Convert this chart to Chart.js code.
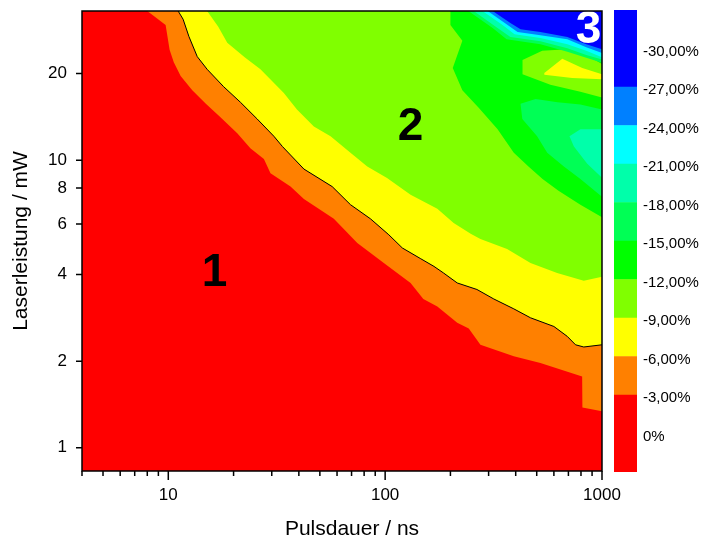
<!DOCTYPE html>
<html><head><meta charset="utf-8">
<script src="https://cdn.jsdelivr.net/npm/chart.js@4.4.1/dist/chart.umd.min.js"></script>
<style>
html,body{margin:0;padding:0;background:#fff;}
#wrap{position:relative;width:711px;height:541px;overflow:hidden;background:#fff;}
canvas{position:absolute;top:0;}
#main{left:0;}
#bar{left:614px;}
</style></head><body>
<div id="wrap"><canvas id="main" width="711" height="541"></canvas><canvas id="bar" width="97" height="541"></canvas></div>
<script>
const FONT = "'Liberation Sans', Arial, sans-serif";

// ---- axes ----
const xRange = [4, 1000];
const yRange = [0.83, 33];
const xTickValues = [4,5,6,7,8,9,10,20,30,40,50,60,70,80,90,100,200,300,400,500,600,700,800,900,1000];
const xLabelValues = [10,100,1000];
const yTickValues = [1,2,4,6,8,10,20];
const xTitle = 'Pulsdauer / ns';
const yTitle = 'Laserleistung / mW';

// ---- colour levels (%) ----
const levelTicks = [0,-3,-6,-9,-12,-15,-18,-21,-24,-27,-30];
const bandEdges  = [3,-3,-6,-9,-12,-15,-18,-21,-24,-27,-33];
const bandColors = ['#FF0000','#FF8000','#FFFF00','#80FF00','#00FF00','#00FF55','#00FFAA','#00FFFF','#0080FF','#0000FF'];

// ---- contour level lines: [pulse duration ns, power mW] ----
const edgeMinus3 = [[8.0,33],[9.72,29.5],[10.14,24.2],[10.6,21.9],[11.4,19.6],[12.9,17.5],[14.9,15.7],[17.4,14.1],[20.8,12.4],[23.9,11.0],[27.6,10.1],[29.6,9.0],[36.6,8.1],[42.2,7.33],[58.0,6.25],[74.4,5.15],[98.6,4.39],[131,3.74],[150,3.29],[174,3.10],[215,2.72],[243,2.60],[275,2.28],[392,2.08],[520,1.97],[810,1.77],[812,1.38],[1000,1.34]];
const edgeMinus6 = [[11.1,33],[11.7,30.9],[12.45,26.9],[13.6,22.9],[15.1,20.7],[18.0,18.0],[21.5,15.9],[25.7,13.9],[30.7,12.1],[33.6,11.15],[42.2,9.31],[57.0,8.09],[69.2,7.0],[85.6,6.25],[104,5.50],[120,4.95],[146,4.54],[168,4.27],[186,4.05],[215,3.74],[265,3.55],[317,3.29],[392,3.04],[468,2.83],[600,2.64],[691,2.44],[755,2.28],[824,2.24],[1000,2.28]];
const edgeMinus9 = [[15.1,33],[17.0,29.1],[18.7,25.6],[22.5,22.8],[26.6,20.7],[34.1,17.1],[39.2,15.0],[46.9,13.1],[56.0,12.1],[69.2,10.6],[82.7,9.5],[102,8.66],[131,7.58],[174,6.77],[207,6.04],[248,5.55],[275,5.32],[365,4.91],[468,4.39],[621,4.05],[824,3.81],[1000,3.93]];
const edgeMinus12 = [[200,33],[200,29.5],[227,26.0],[205,20.9],[227,17.5],[270,15.2],[330,12.8],[392,10.6],[458,9.5],[532,8.6],[630,7.82],[795,7.0],[1000,6.33]];
const edgeMinus15 = [[242,33],[313,28.8],[363,26.3],[520,25.3],[692,23.8],[846,22.7],[1000,21.8]];
const edgeMinus18 = [[256,33],[326,29.0],[378,26.8],[520,25.9],[692,24.5],[846,23.2],[1000,22.4]];
const edgeMinus21 = [[281,33],[348,29.5],[395,27.4],[520,26.6],[692,25.3],[846,24.0],[1000,22.8]];
const edgeMinus24 = [[297,33],[363,29.7],[408,27.9],[520,27.2],[692,26.3],[846,24.7],[1000,23.6]];
const edgeMinus27 = [[313,33],[378,30.0],[421,28.5],[520,27.9],[692,26.8],[846,25.3],[1000,24.3]];
// closed islands
const islandMinus9  = [[430,22.3],[530,24.0],[692,24.3],[846,23.2],[1000,21.6],[1000,16.5],[795,17.3],[578,18.3],[430,19.9]];
const islandMinus6  = [[542,20.1],[656,22.5],[811,20.9],[1000,19.9],[1000,19.1],[729,19.3],[542,19.8]];
const pocketMinus15 = [[421,15.7],[494,16.3],[623,15.9],[795,15.6],[1000,15.0],[1000,7.46],[795,8.6],[667,9.5],[559,10.6],[502,12.1],[429,13.9]];
const pocketMinus18 = [[708,12.1],[795,12.8],[1000,12.8],[1000,8.68],[855,9.71],[742,11.15]];

// ---- region annotations ----
const regionNames  = ['1','2','3'];
const regionX      = [16.35,131,867];
const regionY      = [4.04,13.05,28.2];
const regionColors = ['#000','#000','#fff'];

// helpers
const toPts = arr => arr.map(([x,y]) => ({x, y}));
function closeTopRight(edge){
  const f = edge[0], l = edge[edge.length-1];
  return toPts(edge.concat([[5000,l[1]],[5000,200],[f[0],200]]));
}
const fullArea = toPts([[1,0.1],[5000,0.1],[5000,200],[1,200]]);

const layers = [
  {pts: fullArea, color: bandColors[0]},
  {pts: closeTopRight(edgeMinus3), color: bandColors[1]},
  {pts: closeTopRight(edgeMinus6), color: bandColors[2]},
  {pts: closeTopRight(edgeMinus9), color: bandColors[3]},
  {pts: closeTopRight(edgeMinus12), color: bandColors[4]},
  {pts: toPts(islandMinus9), color: bandColors[3]},
  {pts: toPts(islandMinus6), color: bandColors[2]},
  {pts: toPts(pocketMinus15), color: bandColors[5]},
  {pts: toPts(pocketMinus18), color: bandColors[6]},
  {pts: closeTopRight(edgeMinus15), color: bandColors[5]},
  {pts: closeTopRight(edgeMinus18), color: bandColors[6]},
  {pts: closeTopRight(edgeMinus21), color: bandColors[7]},
  {pts: closeTopRight(edgeMinus24), color: bandColors[8]},
  {pts: closeTopRight(edgeMinus27), color: bandColors[9]}
];
const datasets = layers.map((l, i) => ({
  data: l.pts, backgroundColor: l.color, borderColor: 'rgba(0,0,0,0)', borderWidth: 0,
  fill: 'shape', showLine: true, pointRadius: 0, pointHoverRadius: 0, tension: 0,
  order: layers.length - i + 1
}));
datasets.push({data: toPts(edgeMinus6), borderColor: '#000', borderWidth: 1, fill: false,
  showLine: true, pointRadius: 0, pointHoverRadius: 0, tension: 0, order: 0});

const decor = {
  id: 'decor',
  afterDatasetsDraw(chart){
    const {ctx, chartArea: a, scales: {x, y}} = chart;
    ctx.save();
    ctx.font = 'bold 46px ' + FONT;
    ctx.textAlign = 'center'; ctx.textBaseline = 'middle';
    regionNames.forEach((t, i) => {
      ctx.fillStyle = regionColors[i];
      ctx.fillText(t, x.getPixelForValue(regionX[i]), y.getPixelForValue(regionY[i]));
    });
    ctx.strokeStyle = '#000'; ctx.lineWidth = 1.5;
    ctx.strokeRect(a.left, a.top, a.right - a.left, a.bottom - a.top);
    ctx.beginPath();
    xTickValues.forEach(v => {
      const px = x.getPixelForValue(v);
      const len = xLabelValues.includes(v) ? 9 : 5;
      ctx.moveTo(px, a.bottom); ctx.lineTo(px, a.bottom + len);
    });
    yTickValues.forEach(v => {
      const py = y.getPixelForValue(v);
      ctx.moveTo(a.left, py); ctx.lineTo(a.left - 6, py);
    });
    ctx.stroke();
    // x axis title (sits slightly right of the plot centre in the original)
    ctx.font = '21px ' + FONT;
    ctx.fillStyle = '#000';
    ctx.fillText(xTitle, (a.left + a.right) / 2 + 10, a.bottom + 58);
    ctx.restore();
  }
};

new Chart(document.getElementById('main'), {
  type: 'scatter',
  data: {datasets},
  options: {
    responsive: false, animation: false, events: [],
    layout: {padding: {left: 0, top: 11, right: 109, bottom: 0}},
    plugins: {legend: {display: false}, tooltip: {enabled: false}},
    scales: {
      x: {
        type: 'logarithmic', position: 'bottom', min: xRange[0], max: xRange[1],
        grid: {display: false, drawTicks: false}, border: {display: false},
        afterBuildTicks(s){ s.ticks = xTickValues.map(v => ({value: v})); },
        afterFit(s){ s.height = 70; s.paddingLeft = 0; s.paddingRight = 0; },
        ticks: {autoSkip: false, maxRotation: 0, minRotation: 0, padding: 14, color: '#000',
          font: {family: FONT, size: 17},
          callback: v => xLabelValues.includes(v) ? String(v) : ''},
        title: {display: false}
      },
      y: {
        type: 'logarithmic', position: 'left', min: yRange[0], max: yRange[1],
        grid: {display: false, drawTicks: false}, border: {display: false},
        afterBuildTicks(s){ s.ticks = yTickValues.map(v => ({value: v})); },
        afterFit(s){ s.width = 82; s.paddingTop = 0; s.paddingBottom = 0; },
        ticks: {autoSkip: false, padding: 15, color: '#000', font: {family: FONT, size: 17},
          callback: v => yTickValues.includes(v) ? String(v) : ''},
        title: {display: true, text: yTitle, color: '#000', font: {family: FONT, size: 21}, padding: {top: 9, bottom: 0}}
      }
    }
  },
  plugins: [decor]
});

new Chart(document.getElementById('bar'), {
  type: 'bar',
  data: {labels: [''], datasets: bandColors.map((c, i) => ({
    data: [[bandEdges[i], bandEdges[i+1]]], backgroundColor: c, borderWidth: 0,
    grouped: false, barPercentage: 1, categoryPercentage: 1}))},
  options: {
    responsive: false, animation: false, events: [],
    layout: {padding: {top: 10, bottom: 69, left: 0, right: 0}},
    plugins: {legend: {display: false}, tooltip: {enabled: false}},
    scales: {
      x: {display: false},
      y: {
        type: 'linear', position: 'right', min: -33, max: 3, reverse: true,
        grid: {display: false, drawTicks: false}, border: {display: false},
        afterBuildTicks(s){ s.ticks = levelTicks.map(v => ({value: v})); },
        afterFit(s){ s.width = 74; s.paddingTop = 0; s.paddingBottom = 0; },
        ticks: {padding: 6, labelOffset: 3, color: '#000', font: {family: FONT, size: 15},
          callback: v => v === 0 ? '0%' : v.toFixed(2).replace('.', ',') + '%'}
      }
    }
  }
});
</script>
</body></html>
